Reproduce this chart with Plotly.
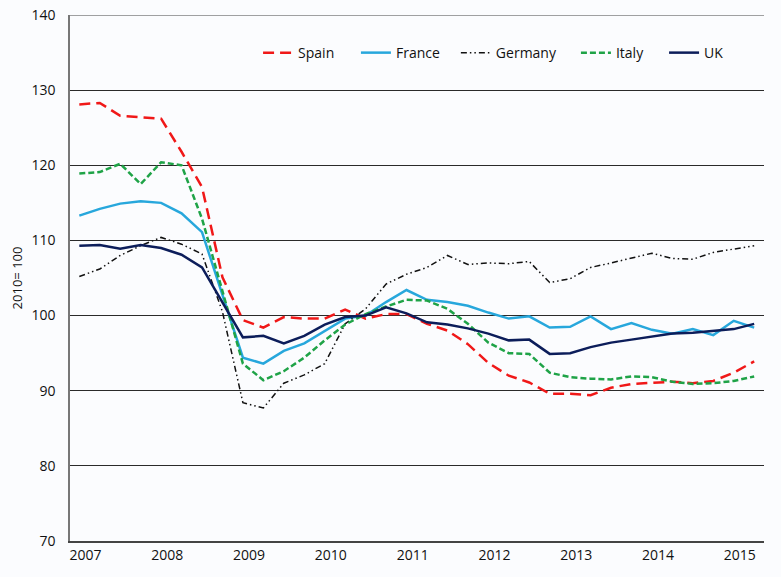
import plotly.graph_objects as go

quarters = [f"{y}Q{q}" for y in range(2007, 2016) for q in range(1, 5)][:34]
year_labels = ["2007", "2008", "2009", "2010", "2011", "2012", "2013", "2014", "2015"]

spain = [128.1, 128.3, 126.6, 126.4, 126.2, 121.8, 117.1, 105.1, 99.4, 98.4, 99.8, 99.6, 99.6, 100.8, 99.6, 100.2, 100.2,
         98.9, 98.0, 96.2, 93.7, 92.0, 91.1, 89.6, 89.6, 89.4, 90.4, 90.9, 91.1, 91.2, 91.0, 91.3, 92.4, 93.9]
france = [113.3, 114.2, 114.9, 115.2, 115.0, 113.6, 111.1, 102.6, 94.4, 93.6, 95.3, 96.3, 98.0, 99.6, 100.0, 101.8, 103.4,
          102.1, 101.8, 101.3, 100.4, 99.6, 99.9, 98.4, 98.5, 99.9, 98.2, 99.0, 98.1, 97.6, 98.2, 97.4, 99.3, 98.4]
germany = [105.2, 106.2, 108.0, 109.3, 110.4, 109.5, 108.2, 100.5, 88.4, 87.7, 91.0, 92.1, 93.6, 98.9, 100.9, 104.2, 105.5,
           106.4, 108.0, 106.8, 107.0, 106.9, 107.2, 104.4, 104.9, 106.4, 107.0, 107.6, 108.3, 107.6, 107.5, 108.4, 108.9, 109.3]
italy = [118.9, 119.1, 120.2, 117.5, 120.4, 120.0, 112.9, 103.1, 93.6, 91.4, 92.6, 94.4, 96.7, 98.8, 100.2, 101.2, 102.1,
         102.0, 100.9, 98.9, 96.4, 95.0, 94.9, 92.4, 91.8, 91.6, 91.5, 91.9, 91.8, 91.2, 90.9, 91.0, 91.3, 91.9]
uk = [109.3, 109.4, 108.9, 109.4, 109.0, 108.1, 106.4, 101.8, 97.1, 97.3, 96.3, 97.3, 98.8, 99.8, 100.0, 101.1, 100.3,
      99.1, 98.8, 98.3, 97.6, 96.7, 96.8, 94.9, 95.0, 95.8, 96.4, 96.8, 97.2, 97.6, 97.7, 98.0, 98.2, 98.9]

x = list(range(len(quarters)))
tick_pos = [4 * k + 0.3 for k in range(len(year_labels))]

series = [
    ("Spain", spain, "#f01818", 2.5, "11px,6px", "legend", 0.2710),
    ("France", france, "#27a7dc", 2.5, "solid", "legend2", 0.4120),
    ("Germany", germany, "#111111", 1.5, "6px,3px,1.5px,3px,1.5px,3px", "legend3", 0.5560),
    ("Italy", italy, "#1fa347", 2.5, "6px,3px", "legend4", 0.7290),
    ("UK", uk, "#0c1d5a", 2.5, "solid", "legend5", 0.8560),
]

fig = go.Figure()
legend_layout = {}
for name, vals, color, width, dash, lg, lx in series:
    fig.add_trace(go.Scatter(x=x, y=vals, mode="lines", name=name, legend=lg, showlegend=True,
                             line=dict(color=color, width=width, dash=dash),
                             text=quarters, hovertemplate="%{text}: %{y}<extra>" + name + "</extra>"))
    legend_layout[lg] = dict(x=lx, y=0.9277, xanchor="left", yanchor="middle",
                             bgcolor="rgba(0,0,0,0)", borderwidth=0,
                             font=dict(family="Open Sans", size=14, color="#111"))

fig.update_layout(
    width=781, height=577,
    margin=dict(l=70, r=17, t=15, b=36, autoexpand=False),
    showlegend=True,
    paper_bgcolor="#fbfcfe", plot_bgcolor="#fbfcfe",
    font=dict(family="Open Sans", size=14, color="#111"),
    **legend_layout,
)
fig.update_xaxes(range=[-0.455, 33.48], tickvals=tick_pos, ticktext=year_labels, automargin=False,
                 showgrid=False, zeroline=False, showline=True, linecolor="#444", linewidth=1.5,
                 ticks="", tickfont=dict(size=14, color="#111"))
fig.update_yaxes(range=[70, 140], tickvals=[70, 80, 90, 100, 110, 120, 130, 140], automargin=False,
                 ticklabeloverflow="allow",
                 showgrid=True, gridcolor="#2a2a2a", gridwidth=1, zeroline=False,
                 showline=True, linecolor="#777", linewidth=1.5, ticks="", ticklabelstandoff=10,
                 tickfont=dict(size=14, color="#111"),
                 title=dict(text="2010= 100", font=dict(size=13, color="#111"), standoff=6))
fig.add_hline(y=140, line=dict(color="#444", width=1.2), layer="below")

fig.write_html("out.html", config={"displayModeBar": False},
               post_script="document.body.style.margin='0';document.body.style.overflow='hidden';")
